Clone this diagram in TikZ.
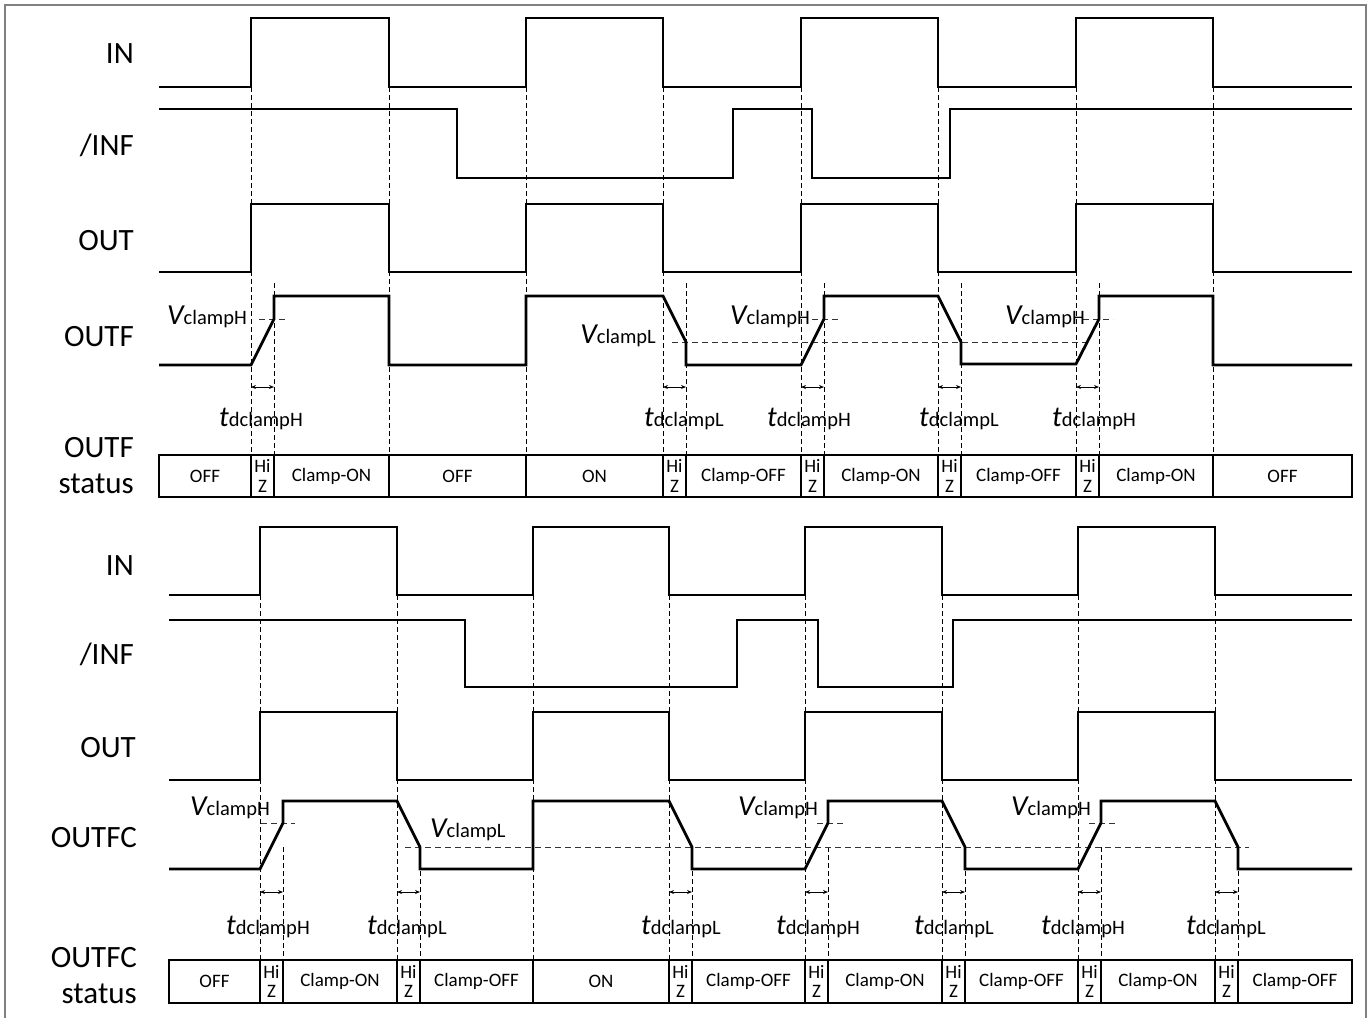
\documentclass[tikz,border=0pt]{standalone}
\usepackage{fontspec}
\setmainfont{Carlito}
\usetikzlibrary{arrows.meta}
\newcommand\vlab[1]{{\fontsize{29}{29}\selectfont\itshape V}{\fontsize{20.5}{20.5}\selectfont clamp#1}}
\newcommand\tlab[1]{{\fontsize{29}{29}\selectfont\itshape t}{\fontsize{20.5}{20.5}\selectfont dclamp#1}}
\begin{document}
\begin{tikzpicture}[x=1pt,y=-1pt,
  sig/.style={line width=2.8pt, line join=miter},
  guide/.style={line width=0.9pt, dash pattern=on 5pt off 3pt, black},
  hguide/.style={line width=0.9pt, dash pattern=on 6pt off 4pt, black!80},
  dimarrow/.style={line width=0.9pt, {Stealth[length=5pt,width=4pt]}-{Stealth[length=5pt,width=4pt]}},
  lab/.style={anchor=base east, font=\fontsize{31}{33}\selectfont, inner sep=0pt},
  annE/.style={anchor=base east, inner sep=0pt},
  annW/.style={anchor=base west, inner sep=0pt},
  cellbox/.style={draw, line width=1.1pt, inner sep=0pt, font=\fontsize{19}{19.5}\selectfont, align=center, minimum height=42pt}
]
\useasboundingbox (0,0) rectangle (1370,1018);
\draw[gray, line width=1.3pt] (5,1018) -- (5,5) -- (1366,5) -- (1366,1018);

% ================= TOP SECTION =================
\foreach \x in {251,389,526,663,801,938,1076,1213}
  \draw[guide] (\x,87) -- (\x,455);
\foreach \x in {274,686,824,961,1099}
  \draw[guide] (\x,283) -- (\x,455);
\draw[hguide] (259,319) -- (287,319);
\draw[hguide] (812,319) -- (838,319);
\draw[hguide] (1083,319) -- (1113,319);
\draw[hguide] (672,342) -- (1087,342);

\node[lab] (t_in) at (134,63) {IN};
\node[lab] (t_inf) at (134,155) {/INF};
\node[lab] (t_out) at (134,250) {OUT};
\node[lab] (t_outf) at (134,346) {OUTF};
\node[lab] (t_st1) at (134,457) {OUTF};
\node[lab] (t_st2) at (134,493) {status};

\draw[sig] (159,87) -- (251,87) -- (251,18) -- (389,18) -- (389,87) -- (526,87) -- (526,18) -- (663,18) -- (663,87)
  -- (801,87) -- (801,18) -- (938,18) -- (938,87) -- (1076,87) -- (1076,18) -- (1213,18) -- (1213,87) -- (1352,87);
\draw[sig] (159,109) -- (457,109) -- (457,178) -- (733,178) -- (733,109) -- (812,109) -- (812,178) -- (950,178) -- (950,109) -- (1352,109);
\draw[sig] (159,272) -- (251,272) -- (251,204) -- (389,204) -- (389,272) -- (526,272) -- (526,204) -- (663,204) -- (663,272)
  -- (801,272) -- (801,204) -- (938,204) -- (938,272) -- (1076,272) -- (1076,204) -- (1213,204) -- (1213,272) -- (1352,272);
\draw[sig] (159,365) -- (251,365) -- (274,319) -- (274,296) -- (389,296) -- (389,365) -- (526,365) -- (526,296) -- (663,296)
  -- (686,342) -- (686,365) -- (801,365) -- (824,319) -- (824,296) -- (938,296) -- (961,342) -- (961,364) -- (1076,364)
  -- (1099,319) -- (1099,296) -- (1213,296) -- (1213,365) -- (1352,365);

\foreach \a/\b in {251/274,663/686,801/824,938/961,1076/1099}
  \draw[dimarrow] (\a,387) -- (\b,387);

\node[annE] (vh1) at (247,324) {\vlab{H}};
\node[annE] (vl1) at (656,343) {\vlab{L}};
\node[annE] (vh2) at (810,324) {\vlab{H}};
\node[annE] (vh3) at (1085,324) {\vlab{H}};
\node[annW] (th1) at (219,426) {\tlab{H}};
\node[annW] (tl1) at (644,426) {\tlab{L}};
\node[annW] (th2) at (767,426) {\tlab{H}};
\node[annW] (tl2) at (919,426) {\tlab{L}};
\node[annW] (th3) at (1052,426) {\tlab{H}};

\foreach \a/\b/\t [count=\i] in {159/251/OFF, 251/274/{Hi\\Z}, 274/389/Clamp-ON, 389/526/OFF, 526/663/ON, 663/686/{Hi\\Z},
  686/801/Clamp-OFF, 801/824/{Hi\\Z}, 824/938/Clamp-ON, 938/961/{Hi\\Z}, 961/1076/Clamp-OFF, 1076/1099/{Hi\\Z},
  1099/1213/Clamp-ON, 1213/1352/OFF}
  \node[cellbox, minimum width={(\b-\a)*1pt}] (sa\i) at ({(\a+\b)/2},476) {\t};

% ================= BOTTOM SECTION =================
\foreach \x in {260,397,533,669,805,942,1078,1215}
  \draw[guide] (\x,595) -- (\x,960);
\foreach \x in {283,420,692,828,965,1101,1238}
  \draw[guide] (\x,847) -- (\x,960);
\draw[hguide] (261,823) -- (295,823);
\draw[hguide] (817,823) -- (843,823);
\draw[hguide] (1089,823) -- (1115,823);
\draw[hguide] (405,847) -- (1249,847);

\node[lab] (b_in) at (134,575) {IN};
\node[lab] (b_inf) at (134,664) {/INF};
\node[lab] (b_out) at (136,757) {OUT};
\node[lab] (b_outfc) at (137,847) {OUTFC};
\node[lab] (b_st1) at (137,967) {OUTFC};
\node[lab] (b_st2) at (137,1003) {status};

\draw[sig] (169,595) -- (260,595) -- (260,527) -- (397,527) -- (397,595) -- (533,595) -- (533,527) -- (669,527) -- (669,595)
  -- (805,595) -- (805,527) -- (942,527) -- (942,595) -- (1078,595) -- (1078,527) -- (1215,527) -- (1215,595) -- (1352,595);
\draw[sig] (169,620) -- (465,620) -- (465,687) -- (737,687) -- (737,620) -- (818,620) -- (818,687) -- (953,687) -- (953,620) -- (1352,620);
\draw[sig] (169,780) -- (260,780) -- (260,712) -- (397,712) -- (397,780) -- (533,780) -- (533,712) -- (669,712) -- (669,780)
  -- (805,780) -- (805,712) -- (942,712) -- (942,780) -- (1078,780) -- (1078,712) -- (1215,712) -- (1215,780) -- (1352,780);
\draw[sig] (169,869) -- (260,869) -- (283,823) -- (283,801) -- (397,801) -- (420,847) -- (420,869) -- (533,869) -- (533,801)
  -- (669,801) -- (692,847) -- (692,869) -- (805,869) -- (828,823) -- (828,801) -- (942,801) -- (965,847) -- (965,869)
  -- (1078,869) -- (1101,823) -- (1101,801) -- (1215,801) -- (1238,847) -- (1238,869) -- (1352,869);

\foreach \a/\b in {260/283,397/420,669/692,805/828,942/965,1078/1101,1215/1238}
  \draw[dimarrow] (\a,892) -- (\b,892);

\node[annE] (bvh1) at (270,815) {\vlab{H}};
\node[annW] (bvl1) at (430,837) {\vlab{L}};
\node[annE] (bvh2) at (818,815) {\vlab{H}};
\node[annE] (bvh3) at (1091,815) {\vlab{H}};
\node[annW] (bth1) at (226,934) {\tlab{H}};
\node[annW] (btl1) at (367,934) {\tlab{L}};
\node[annW] (btl2) at (641,934) {\tlab{L}};
\node[annW] (bth2) at (776,934) {\tlab{H}};
\node[annW] (btl3) at (914,934) {\tlab{L}};
\node[annW] (bth3) at (1041,934) {\tlab{H}};
\node[annW] (btl4) at (1186,934) {\tlab{L}};

\foreach \a/\b/\t [count=\i] in {169/260/OFF, 260/283/{Hi\\Z}, 283/397/Clamp-ON, 397/420/{Hi\\Z}, 420/533/Clamp-OFF, 533/669/ON,
  669/692/{Hi\\Z}, 692/805/Clamp-OFF, 805/828/{Hi\\Z}, 828/942/Clamp-ON, 942/965/{Hi\\Z}, 965/1078/Clamp-OFF,
  1078/1101/{Hi\\Z}, 1101/1215/Clamp-ON, 1215/1238/{Hi\\Z}, 1238/1352/Clamp-OFF}
  \node[cellbox, minimum width={(\b-\a)*1pt}, minimum height=43pt] (sb\i) at ({(\a+\b)/2},981.5) {\t};
\end{tikzpicture}
\end{document}
